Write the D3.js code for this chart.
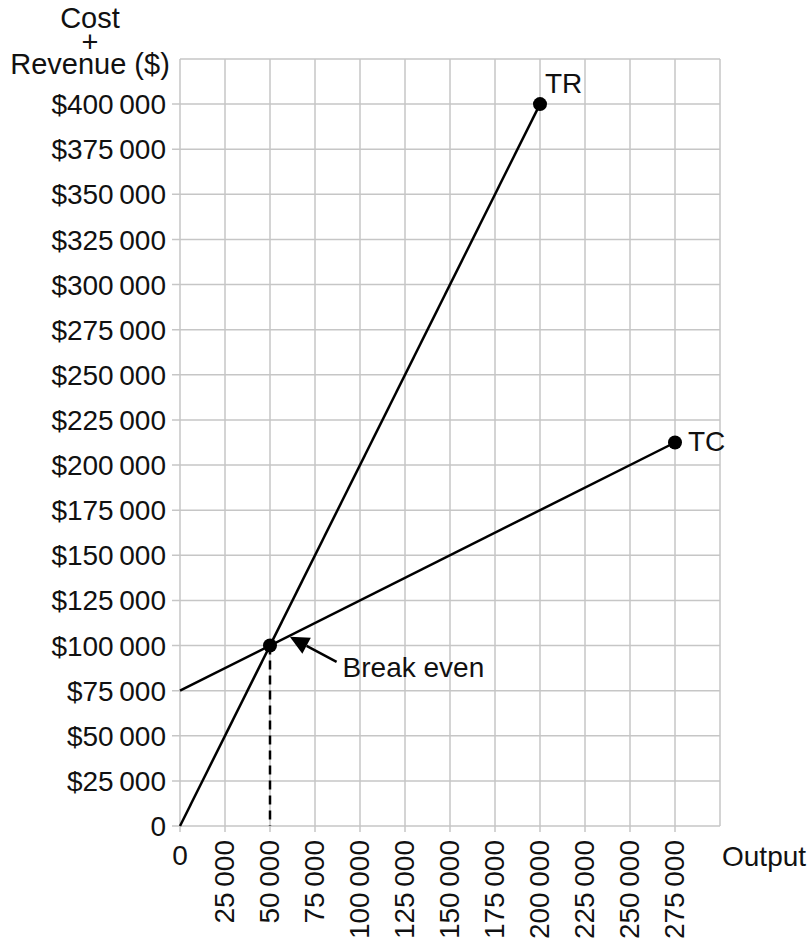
<!DOCTYPE html>
<html>
<head>
<meta charset="utf-8">
<script src="https://cdn.jsdelivr.net/npm/d3@7"></script>
<style>
  html, body { margin: 0; padding: 0; background: #fff; }
  svg text { font-family: "Liberation Sans", Arial, sans-serif; fill: #111; }
</style>
</head>
<body>
<div id="chart"></div>
<script>
  // chart data
  var outputTicks = [0, 25000, 50000, 75000, 100000, 125000, 150000, 175000, 200000, 225000, 250000, 275000];
  var moneyTicks = [0, 25000, 50000, 75000, 100000, 125000, 150000, 175000, 200000, 225000, 250000, 275000, 300000, 325000, 350000, 375000, 400000];
  var trPoints = [[0, 0], [200000, 400000]];
  var tcPoints = [[0, 75000], [275000, 212500]];
  var breakEven = [50000, 100000];
  var arrowFrom = [87000, 91000];   // "Break even" pointer tail
  var arrowTo = [61000, 104800];    // pointer tip, on TC line

  var width = 811, height = 940;
  var plotL = 180, plotR = 720, plotT = 59, plotB = 826;

  var x = d3.scaleLinear().domain([0, 300000]).range([plotL, plotR]);
  var y = d3.scaleLinear().domain([0, 425000]).range([plotB, plotT]);

  var fmt = function (v) {
    if (v === 0) return "0";
    var s = String(v);
    return s.slice(0, s.length - 3) + "\u2009" + s.slice(-3);
  };

  var svg = d3.select("#chart").append("svg")
      .attr("width", width)
      .attr("height", height);

  var grid = "#c6c6c6";

  // vertical grid lines (incl. right border), extending below as ticks
  svg.append("g").selectAll("line")
    .data(d3.range(0, 300001, 25000))
    .enter().append("line")
      .attr("x1", function (d) { return x(d); })
      .attr("x2", function (d) { return x(d); })
      .attr("y1", y(425000))
      .attr("y2", function (d) { return d === 300000 ? plotB : plotB + 6; })
      .attr("stroke", grid).attr("stroke-width", 1.5);

  // horizontal grid lines, extending left as ticks
  svg.append("g").selectAll("line")
    .data(d3.range(0, 425001, 25000))
    .enter().append("line")
      .attr("x1", function (d) { return d === 425000 ? plotL : plotL - 8; })
      .attr("x2", plotR)
      .attr("y1", function (d) { return y(d); })
      .attr("y2", function (d) { return y(d); })
      .attr("stroke", grid).attr("stroke-width", 1.5);

  // y tick labels
  svg.append("g").selectAll("text")
    .data(moneyTicks)
    .enter().append("text")
      .attr("x", plotL - 14)
      .attr("y", function (d) { return y(d); })
      .attr("dy", "0.36em")
      .attr("text-anchor", "end")
      .style("font-size", "28px")
      .text(function (d) { return d === 0 ? "0" : "$" + fmt(d); });

  // x tick labels (0 upright, the rest rotated)
  svg.append("g").selectAll("text")
    .data(outputTicks)
    .enter().append("text")
      .attr("transform", function (d) {
        return d === 0 ? "translate(" + x(d) + "," + (plotB + 39) + ")"
                       : "translate(" + (x(d) - 1) + "," + (plotB + 14) + ") rotate(-90)";
      })
      .attr("dy", function (d) { return d === 0 ? 0 : "0.36em"; })
      .attr("text-anchor", function (d) { return d === 0 ? "middle" : "end"; })
      .style("font-size", "28px")
      .text(fmt);

  // axis titles
  var yTitle = svg.append("text")
      .attr("text-anchor", "middle")
      .style("font-size", "29px");
  yTitle.append("tspan").attr("x", 90).attr("y", 28).text("Cost");
  yTitle.append("tspan").attr("x", 90).attr("y", 52).text("+");
  yTitle.append("tspan").attr("x", 90).attr("y", 74).text("Revenue ($)");

  svg.append("text")
      .attr("x", plotR + 2)
      .attr("y", 866)
      .style("font-size", "28px")
      .text("Output");

  var line = d3.line()
      .x(function (d) { return x(d[0]); })
      .y(function (d) { return y(d[1]); });

  // dashed drop from break-even
  svg.append("path")
      .attr("d", line([breakEven, [breakEven[0], 0]]))
      .attr("stroke", "#000").attr("stroke-width", 2.5)
      .attr("stroke-dasharray", "9,6")
      .attr("fill", "none");

  svg.append("path").attr("d", line(trPoints))
      .attr("stroke", "#000").attr("stroke-width", 2.5).attr("fill", "none");
  svg.append("path").attr("d", line(tcPoints))
      .attr("stroke", "#000").attr("stroke-width", 2.5).attr("fill", "none");

  // end and break-even dots
  svg.append("g").selectAll("circle")
    .data([trPoints[1], tcPoints[1], breakEven])
    .enter().append("circle")
      .attr("cx", function (d) { return x(d[0]); })
      .attr("cy", function (d) { return y(d[1]); })
      .attr("r", 7)
      .attr("fill", "#000");

  svg.append("text")
      .attr("x", x(trPoints[1][0]) + 5)
      .attr("y", y(trPoints[1][1]) - 11)
      .style("font-size", "28px")
      .text("TR");
  svg.append("text")
      .attr("x", x(tcPoints[1][0]) + 13)
      .attr("y", y(tcPoints[1][1]) + 8)
      .style("font-size", "28px")
      .text("TC");

  // break even pointer
  var ax0 = x(arrowFrom[0]), ay0 = y(arrowFrom[1]);
  var ax1 = x(arrowTo[0]), ay1 = y(arrowTo[1]);
  var ang = Math.atan2(ay1 - ay0, ax1 - ax0);
  var headLen = 19, headHalf = 9;
  var bx = ax1 - headLen * Math.cos(ang), by = ay1 - headLen * Math.sin(ang);
  svg.append("line")
      .attr("x1", ax0).attr("y1", ay0).attr("x2", bx).attr("y2", by)
      .attr("stroke", "#000").attr("stroke-width", 2.5);
  svg.append("path")
      .attr("d", "M" + ax1 + "," + ay1 +
        "L" + (bx + headHalf * Math.sin(ang)) + "," + (by - headHalf * Math.cos(ang)) +
        "L" + (bx - headHalf * Math.sin(ang)) + "," + (by + headHalf * Math.cos(ang)) + "Z")
      .attr("fill", "#000");

  svg.append("text")
      .attr("x", ax0 + 6)
      .attr("y", 677)
      .style("font-size", "28px")
      .text("Break even");
</script>
</body>
</html>
